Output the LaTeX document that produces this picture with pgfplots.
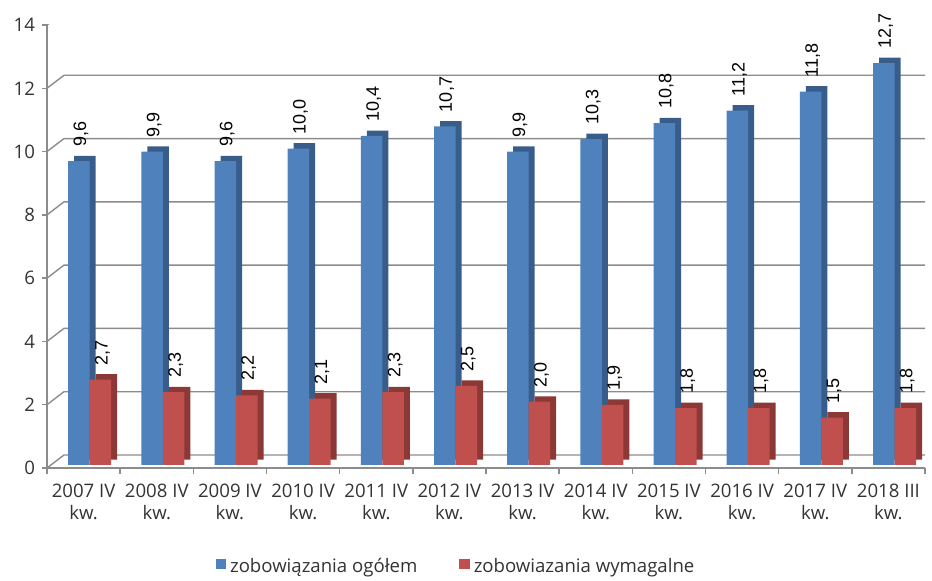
\documentclass[border=0pt]{standalone}
\usepackage{pgfplots}
\usepackage{pgfplotstable}
\pgfplotsset{compat=1.18}
\usepackage{fontspec}
\setmainfont{Open Sans}
\newfontfamily\labelfont{Liberation Sans}

\definecolor{barblue}{HTML}{4F81BD}
\definecolor{barbluedark}{HTML}{385D8A}
\definecolor{barred}{HTML}{C0504D}
\definecolor{barreddark}{HTML}{8C3836}
\definecolor{gridgray}{HTML}{8C8C8C}

% zobowiązania ogółem (total) and zobowiązania wymagalne (due), bn PLN
\pgfplotstableread{
x total due
0  9.6 2.7
1  9.9 2.3
2  9.6 2.2
3 10.0 2.1
4 10.4 2.3
5 10.7 2.5
6  9.9 2.0
7 10.3 1.9
8 10.8 1.8
9 11.2 1.8
10 11.8 1.5
11 12.7 1.8
}\debtdata

\begin{document}
\begin{tikzpicture}
\useasboundingbox (-23.5pt,-56.5pt) rectangle (442.5pt,234pt);
\begin{axis}[
  scale only axis,
  width=439pt, height=221.5pt,
  xmin=-0.5, xmax=11.5, ymin=0, ymax=14,
  /pgf/number format/assume math mode=true,
  axis lines*=left,
  axis line style={-, gridgray, line width=0.7pt},
  xtick={0,...,11},
  xticklabels={{2007 IV\\kw.},{2008 IV\\kw.},{2009 IV\\kw.},{2010 IV\\kw.},
    {2011 IV\\kw.},{2012 IV\\kw.},{2013 IV\\kw.},{2014 IV\\kw.},
    {2015 IV\\kw.},{2016 IV\\kw.},{2017 IV\\kw.},{2018 III\\kw.}},
  xticklabel style={align=center, font=\fontsize{9.3}{11}\selectfont, text=black!80, yshift=-2pt},
  major x tick style={draw=none},
  minor xtick={-0.5,0.5,...,11.5},
  minor x tick style={gridgray, line width=0.7pt},
  minor tick length=3pt,
  ytick={0,2,...,14},
  yticklabel style={font=\fontsize{9.3}{11}\selectfont, text=black!80},
  major y tick style={gridgray, line width=0.7pt},
  major tick length=2.5pt,
  tick align=outside,
  ybar, bar width=10.75pt,
  nodes near coords={\pgfmathprintnumber[fixed,fixed zerofill,precision=1,use comma,assume math mode=true]{\pgfplotspointmeta}},
  every node near coord/.append style={font=\labelfont\fontsize{9}{10}\selectfont, text=black,
    xshift=1pt, yshift=7pt, rotate=90, anchor=west, inner sep=0pt},
  legend style={at={(0.467,-0.2235)}, anchor=center, draw=none, fill=none,
    legend columns=2, font=\fontsize{9.3}{11}\selectfont, text=black!80,
    /tikz/every even column/.append style={column sep=19pt}},
  legend image code/.code={\fill[#1] (0pt,-2.6pt) rectangle (5.2pt,2.6pt);},
]
% back wall with its perspective gridlines
\pgfplotsinvokeforeach{0,2,4,6,8,10,12,14}{
  \draw[gridgray, line width=0.7pt] (axis cs:-0.5,#1) -- ++(8.5pt,6.5pt)
    -- ([shift={(8.5pt,6.5pt)}]axis cs:11.5,#1);
}
\draw[gridgray, line width=0.7pt] (axis cs:11.5,0) -- ++(8.5pt,6.5pt);

% depth faces of the bars
\addplot[forget plot, fill=barbluedark, draw=none, bar shift=-2.3pt,
  xshift=3pt, yshift=4.2pt, nodes near coords={}] table[x=x, y=total] {\debtdata};
\addplot[fill=barblue, draw=none, bar shift=-2.3pt, yshift=1.5pt] table[x=x, y=total] {\debtdata};
\addplot[forget plot, fill=barreddark, draw=none, bar shift=8.45pt,
  xshift=3pt, yshift=4.2pt, nodes near coords={}] table[x=x, y=due] {\debtdata};
\addplot[fill=barred, draw=none, bar shift=8.45pt, yshift=1.5pt] table[x=x, y=due] {\debtdata};

\legend{zobowiązania ogółem, zobowiazania wymagalne}
\end{axis}
\end{tikzpicture}
\end{document}
